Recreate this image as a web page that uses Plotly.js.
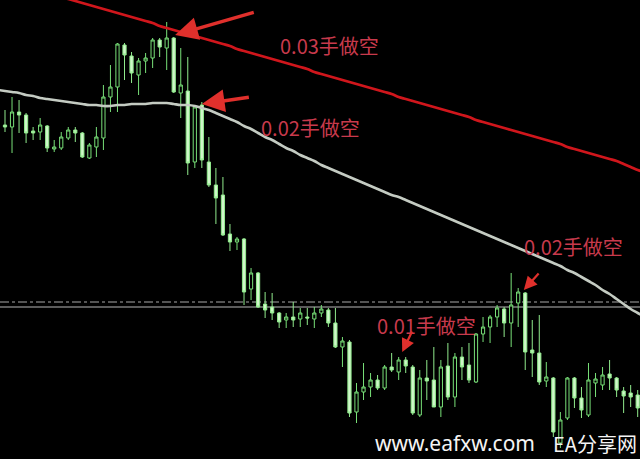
<!DOCTYPE html>
<html>
<head>
<meta charset="utf-8">
<script src="https://cdn.plot.ly/plotly-3.0.1.min.js"></script>
<style>
html,body{margin:0;padding:0;background:#000;}
#chart{width:640px;height:459px;}
</style>
</head>
<body>
<div id="chart"></div>
<script>
// candle index
var idx = [];
for (var k = 0; k <= 90; k++) idx.push(k);

var openP  = [335,333,348,345,329,328,334,311,312,322,330,327,302,313,322,363,373,415,404,385,
              399,402,420,412,422,367,369,298,355,298,275,265,226,218,221,171,187,156,153,147,
              140,143,141,143,141,147,150,137,113,118,48,68,73,80,72,93,88,100,93,45,
              82,80,53,94,63,103,95,78,126,133,143,151,137,157,167,110,107,79,82,17,
              42,82,62,45,77,75,86,82,69,67,65];
var highP  = [350,363,360,347,333,342,335,320,328,333,333,328,317,333,375,395,417,417,408,402,
              407,422,422,438,423,412,403,355,358,323,292,283,236,223,222,192,188,168,167,148,
              147,158,152,152,153,155,152,152,123,120,77,97,87,85,95,107,103,103,95,90,
              100,113,100,117,107,113,117,127,143,145,155,153,187,172,168,140,145,98,83,48,
              83,83,73,97,87,93,100,83,73,75,70];
var lowP   = [328,307,327,317,320,320,308,308,310,320,318,302,301,303,310,348,348,380,377,365,
              387,392,403,390,367,342,285,292,292,273,236,224,209,210,155,160,152,142,140,132,
              132,133,133,135,132,143,133,112,93,43,37,60,63,70,70,88,80,87,45,43,
              60,53,43,60,53,80,77,77,118,117,133,123,113,133,90,83,75,73,23,12,
              40,52,42,43,63,70,70,63,47,53,43];
var closeP = [333,348,345,327,327,335,312,313,323,330,327,303,315,323,363,373,416,405,387,399,
              402,420,413,422,368,375,297,353,300,275,262,225,218,221,168,187,153,150,147,138,
              143,140,147,142,147,151,137,113,119,47,68,73,80,72,93,90,100,94,47,82,
              79,53,93,63,103,93,80,126,133,143,152,137,155,168,108,107,78,83,28,40,
              82,62,50,80,81,85,82,70,64,63,52];

// moving averages, starting one bar before the first visible candle
var maIdx = [];
for (var m = -1; m <= 91; m++) maIdx.push(m);
var maRed  = [482,480,478,476,474,472,470,468,465,463,461,459,457,455,453,451,449,447,445,443,441,
              439,437,434,432,430,428,426,424,422,420,418,416,414,411,409,407,405,403,401,399,
              397,395,393,391,388,386,384,382,380,378,376,374,372,370,368,366,363,361,359,357,
              355,353,351,349,347,345,343,340,338,336,334,332,330,328,326,324,322,320,318,316,
              313,311,309,307,305,303,301,299,296,293,290,288];
var maGray = [370,369,368,367,365,364,362,361,360,359,358,357,356,355,355,354,354,355,355,356,356,
              356,357,357,357,356,355,355,354,352,350,347,344,341,338,334,331,327,323,320,316,
              312,309,305,302,299,295,292,289,286,283,280,277,274,271,268,265,263,260,257,254,
              251,248,245,242,239,236,233,230,227,224,221,218,215,212,209,206,203,200,197,194,
              190,187,183,179,175,170,166,161,156,151,147,143];

// horizontal levels
var levelDashDot = 158;
var levelSolid = 153;

// annotations: label, text position, arrow head, arrow tail
var labels   = ['0.03手做空', '0.02手做空', '0.01手做空', '0.02手做空'];
var labelX   = [46.1, 43.4, 59.9, 80.9];
var labelY   = [415, 333, 135, 214];
var headX    = [24.2, 28.0, 56.5, 73.8];
var headY    = [425, 356, 108, 170];
var tailX    = [35.6, 34.9, 58.0, 76.1];
var tailY    = [448, 363, 130, 188];

var watermark = ['www.eafxw.com', 'EA分享网'];

var traces = [
  {x: maIdx, y: maGray, type: 'scatter', mode: 'lines', line: {color: '#c4cbc2', width: 2.6, shape: 'spline'}, hoverinfo: 'skip'},
  {x: maIdx, y: maRed, type: 'scatter', mode: 'lines', line: {color: '#d0161c', width: 2.8, shape: 'spline'}, hoverinfo: 'skip'},
  {
    x: idx, open: openP, high: highP, low: lowP, close: closeP,
    type: 'candlestick',
    increasing: {line: {color: '#78e078', width: 1}, fillcolor: '#000000'},
    decreasing: {line: {color: '#90ea8c', width: 1}, fillcolor: '#d0f7ca'},
    whiskerwidth: 0,
    hoverinfo: 'skip'
  }
];

var annotations = [];
for (var a = 0; a < labels.length; a++) {
  annotations.push({
    x: labelX[a], y: labelY[a], xref: 'x', yref: 'y', text: labels[a], showarrow: false,
    xanchor: 'center', yanchor: 'middle',
    font: {family: 'Noto Sans CJK SC, Noto Sans, sans-serif', size: 20, color: '#c83a4c'}
  });
  annotations.push({
    x: headX[a], y: headY[a], xref: 'x', yref: 'y', ax: tailX[a], ay: tailY[a], axref: 'x', ayref: 'y',
    text: '', showarrow: true, arrowhead: 2, arrowsize: a < 2 ? 1.3 : 1.2, arrowwidth: a < 2 ? 3.5 : 2.2,
    arrowcolor: '#e0302c'
  });
}
annotations.push({x: 455/640, y: 1 - 443/459, xref: 'paper', yref: 'paper', text: watermark[0], showarrow: false,
  xanchor: 'center', yanchor: 'middle',
  font: {family: 'Noto Sans, DejaVu Sans, sans-serif', size: 21, color: '#f4f4f4'}});
annotations.push({x: 595/640, y: 1 - 443/459, xref: 'paper', yref: 'paper', text: watermark[1], showarrow: false,
  xanchor: 'center', yanchor: 'middle',
  font: {family: 'Noto Sans CJK SC, sans-serif', size: 20, color: '#f4f4f4'}});

var layout = {
  width: 640, height: 459,
  margin: {l: 0, r: 0, t: 0, b: 0},
  paper_bgcolor: '#000000', plot_bgcolor: '#000000',
  showlegend: false,
  boxgap: 0.35,
  xaxis: {range: [-5/7.03, 635/7.03], visible: false, rangeslider: {visible: false}, fixedrange: true},
  yaxis: {range: [1, 460], visible: false, fixedrange: true},
  shapes: [
    {type: 'line', xref: 'paper', x0: 0, x1: 1, yref: 'y', y0: levelDashDot, y1: levelDashDot,
     line: {color: '#a8a8a8', width: 1.2, dash: 'dashdot'}, layer: 'below'},
    {type: 'line', xref: 'paper', x0: 0, x1: 1, yref: 'y', y0: levelSolid, y1: levelSolid,
     line: {color: '#b8b8b8', width: 1}, layer: 'below'}
  ],
  annotations: annotations
};

Plotly.newPlot('chart', traces, layout, {displayModeBar: false, staticPlot: true});
</script>
</body>
</html>
